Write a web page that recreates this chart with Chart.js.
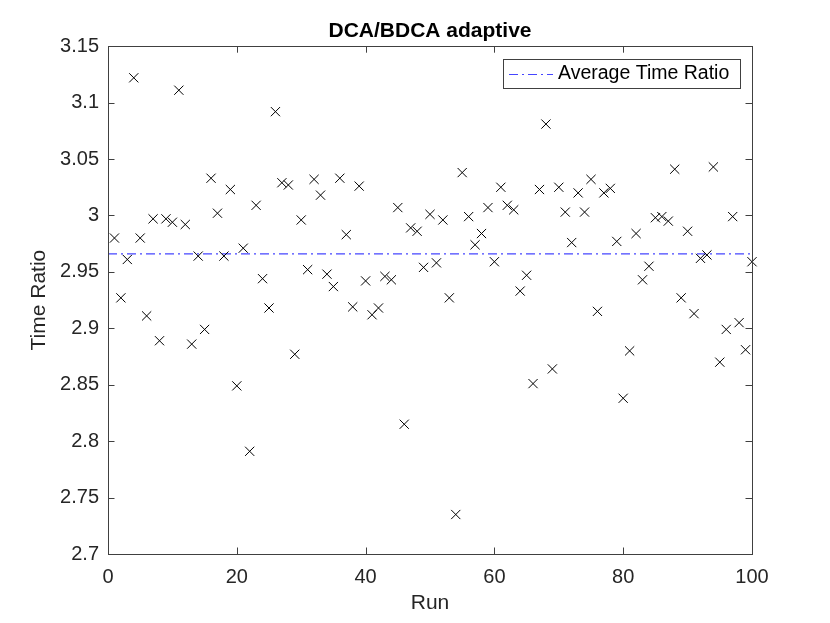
<!DOCTYPE html>
<html>
<head>
<meta charset="utf-8">
<script src="https://cdn.jsdelivr.net/npm/chart.js@4"></script>
<style>
	body { margin:0; background:#fff; }
</style>
</head>
<body>
<canvas id="myChart" width="830" height="623"></canvas>
<script>
//데이터
const runs = [
	1,2,3,4,5,6,7,8,9,10,11,12,13,14,15,16,17,18,19,20,
	21,22,23,24,25,26,27,28,29,30,31,32,33,34,35,36,37,38,39,40,
	41,42,43,44,45,46,47,48,49,50,51,52,53,54,55,56,57,58,59,60,
	61,62,63,64,65,66,67,68,69,70,71,72,73,74,75,76,77,78,79,80,
	81,82,83,84,85,86,87,88,89,90,91,92,93,94,95,96,97,98,99,100
];
const timeRatio = [
	2.980,2.927,2.961,3.122,2.980,2.911,2.997,2.889,2.997,2.994,
	3.111,2.992,2.886,2.964,2.899,3.033,3.002,2.964,3.023,2.849,
	2.971,2.791,3.009,2.944,2.918,3.092,3.029,3.027,2.877,2.996,
	2.952,3.032,3.018,2.948,2.937,3.033,2.983,2.919,3.026,2.942,
	2.912,2.918,2.946,2.943,3.007,2.815,2.989,2.986,2.954,3.001,
	2.958,2.996,2.927,2.735,3.038,2.999,2.974,2.984,3.007,2.959,
	3.025,3.009,3.005,2.933,2.947,2.851,3.023,3.081,2.864,3.025,
	3.003,2.976,3.020,3.003,3.032,2.915,3.020,3.024,2.977,2.838,
	2.880,2.984,2.943,2.955,2.998,2.999,2.995,3.041,2.927,2.986,
	2.913,2.962,2.965,3.043,2.870,2.899,2.999,2.905,2.881,2.959
];
const avgRatio = 2.966;
const avgLabel = 'Average Time Ratio';
const xTicks = [0,20,40,60,80,100];
const yTicks = [2.7,2.75,2.8,2.85,2.9,2.95,3,3.05,3.1,3.15];

const FONT = "'Liberation Sans', Arial, sans-serif";
const AXIS = '#404040';

//MATLAB 처럼 안쪽 눈금 + 박스 + 범례
const boxPlugin = {
	id:'boxPlugin',
	afterDraw(chart){
		const c = chart.ctx;
		const a = chart.chartArea;
		const xs = chart.scales.x, ys = chart.scales.y;
		const tl = 6.5;
		c.save();
		c.strokeStyle = AXIS;
		c.lineWidth = 1;
		c.strokeRect(Math.round(a.left)+0.5, Math.round(a.top)+0.5, Math.round(a.right-a.left), Math.round(a.bottom-a.top));
		c.beginPath();
		xTicks.forEach(v=>{
			const px = Math.round(xs.getPixelForValue(v))+0.5;
			c.moveTo(px, a.bottom); c.lineTo(px, a.bottom-tl);
			c.moveTo(px, a.top); c.lineTo(px, a.top+tl);
		});
		yTicks.forEach(v=>{
			const py = Math.round(ys.getPixelForValue(v))+0.5;
			c.moveTo(a.left, py); c.lineTo(a.left+tl, py);
			c.moveTo(a.right, py); c.lineTo(a.right-tl, py);
		});
		c.stroke();

		//범례
		const ds = chart.data.datasets[1];
		const lx = 503, ly = 59, lw = 237, lh = 29;
		c.fillStyle = '#fff';
		c.fillRect(lx, ly, lw, lh);
		c.strokeStyle = AXIS;
		c.strokeRect(lx+0.5, ly+0.5, lw, lh);
		c.strokeStyle = ds.borderColor;
		c.setLineDash(ds.borderDash);
		c.beginPath();
		c.moveTo(lx+6, ly+15.5); c.lineTo(lx+50, ly+15.5);
		c.stroke();
		c.setLineDash([]);
		c.fillStyle = '#000';
		c.font = '19.5px ' + FONT;
		c.textBaseline = 'middle';
		c.textAlign = 'left';
		c.fillText(ds.label, lx+55, ly+15);
		c.restore();
	}
};

const ctx = document.getElementById('myChart');

new Chart(ctx, {
	type:'scatter',
	data:{
		datasets:[{
			label:'Time Ratio',
			data: runs.map((r,i)=>({x:r, y:timeRatio[i]})),
			pointStyle:'crossRot',
			pointRadius:6.5,
			pointHoverRadius:6.5,
			borderColor:'#000',
			backgroundColor:'#000',
			pointBorderWidth:1,
			showLine:false,
			clip:false
		},{
			type:'line',
			label: avgLabel,
			data:[{x:xTicks[0], y:avgRatio},{x:xTicks[xTicks.length-1], y:avgRatio}],
			borderColor:'rgb(70,70,255)',
			borderWidth:1.2,
			borderDash:[9,4,2,4],
			pointRadius:0,
			fill:false
		}]
	},
	options:{
		responsive:false,
		animation:false,
		devicePixelRatio:1,
		layout:{ padding:{left:0, right:78, top:0, bottom:0} },
		plugins:{
			legend:{ display:false },
			tooltip:{ enabled:false },
			title:{
				display:true,
				fullSize:false,
				text:'DCA/BDCA adaptive',
				color:'#000',
				font:{family:FONT, size:21, weight:'bold', lineHeight:1.2},
				padding:{top:19, bottom:2}
			}
		},
		scales:{
			x:{
				type:'linear',
				min:0, max:100,
				afterBuildTicks:(s)=>{ s.ticks = xTicks.map(v=>({value:v})); },
				afterFit:(s)=>{ s.height = 69; },
				grid:{ display:false, drawTicks:false },
				border:{ display:false },
				ticks:{ color:'#262626', padding:11, maxRotation:0, font:{family:FONT, size:20}, callback:(v)=>String(v) },
				title:{ display:true, text:'Run', color:'#262626', font:{family:FONT, size:21}, padding:{top:0, bottom:7} }
			},
			y:{
				type:'linear',
				min:2.7, max:3.15,
				afterBuildTicks:(s)=>{ s.ticks = yTicks.map(v=>({value:v})); },
				afterFit:(s)=>{ s.width = 108; },
				grid:{ display:false, drawTicks:false },
				border:{ display:false },
				ticks:{ color:'#262626', padding:9, font:{family:FONT, size:20}, callback:(v)=>String(+v.toFixed(2)) },
				title:{ display:true, text:'Time Ratio', color:'#262626', font:{family:FONT, size:21}, padding:{top:27, bottom:0} }
			}
		}
	},
	plugins:[boxPlugin]
});
</script>
</body>
</html>
